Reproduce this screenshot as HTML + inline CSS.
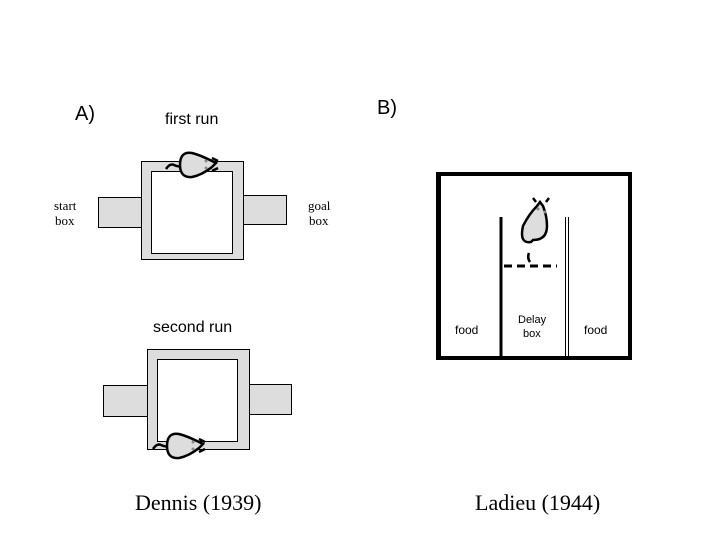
<!DOCTYPE html>
<html><head><style>body{margin:0;background:#fff}svg{display:block}</style></head><body>
<svg width="720" height="540" xmlns="http://www.w3.org/2000/svg" font-family="Liberation Sans, sans-serif">
<rect width="720" height="540" fill="#fff"/>
<text x="75" y="120" font-size="20">A)</text>
<text x="165" y="124" font-size="16">first run</text>
<text x="377" y="114" font-size="20">B)</text>
<!-- top maze -->
<rect x="98.5" y="197.5" width="43" height="30" fill="#ddd" stroke="#000"/>
<rect x="242.5" y="195.5" width="44" height="29" fill="#ddd" stroke="#000"/>
<rect x="141.5" y="161.5" width="102" height="98" fill="#ddd" stroke="#000"/>
<rect x="151.5" y="171.5" width="81" height="82" fill="#fff" stroke="#000"/>
<text x="54" y="210" font-size="13" font-family="Liberation Serif, serif">start</text>
<text x="55" y="225" font-size="13" font-family="Liberation Serif, serif">box</text>
<text x="308" y="210" font-size="13" font-family="Liberation Serif, serif">goal</text>
<text x="309" y="225" font-size="13" font-family="Liberation Serif, serif">box</text>
<g transform="translate(0,0)" stroke="#000" stroke-width="2.5" fill="#ddd">
<path d="M166 169 q4-6 8-4 q4 2 6 1 M180 165 q0-14 12-12 q8 2 20 8 l4 2 l-4 4 q-10 8-20 10 q-12 1-12-12z"/>
<circle cx="206" cy="161" r="1.5" fill="#888" stroke="none"/><circle cx="206" cy="168" r="1.5" fill="#888" stroke="none"/>
<path d="M212 158 l6 3 M212 171 l6-3" />
</g>
<text x="153" y="332" font-size="16">second run</text>
<!-- bottom maze -->
<rect x="103.5" y="385.5" width="44" height="31" fill="#ddd" stroke="#000"/>
<rect x="247.5" y="384.5" width="44" height="30" fill="#ddd" stroke="#000"/>
<rect x="147.5" y="349.5" width="102" height="100" fill="#ddd" stroke="#000"/>
<rect x="157.5" y="359.5" width="80" height="82" fill="#fff" stroke="#000"/>
<g stroke="#000" stroke-width="2.5" fill="#ddd">
<path d="M153 449 q4-6 8-4 q4 2 6 1 M167 446 q0-14 12-12 q8 2 20 8 l4 2 l-4 4 q-10 8-20 10 q-12 1-12-12z"/>
<circle cx="193" cy="442" r="1.5" fill="#888" stroke="none"/><circle cx="193" cy="449" r="1.5" fill="#888" stroke="none"/>
<path d="M199 439 l6 3 M199 452 l6-3"/>
</g>
<text x="135" y="510" font-size="22" font-family="Liberation Serif, serif">Dennis (1939)</text>
<!-- B -->
<rect x="438" y="174" width="192" height="184" fill="#fff" stroke="#000" stroke-width="4"/>
<line x1="440.5" y1="176" x2="440.5" y2="356" stroke="#000" stroke-width="1"/>
<line x1="501" y1="234" x2="501" y2="360" stroke="#000" stroke-width="3"/>
<line x1="501" y1="217" x2="501" y2="234" stroke="#000" stroke-width="3"/>
<line x1="565.5" y1="217" x2="565.5" y2="358" stroke="#000" stroke-width="1"/>
<line x1="568.5" y1="217" x2="568.5" y2="358" stroke="#000" stroke-width="1"/>
<line x1="504" y1="266" x2="557" y2="266" stroke="#000" stroke-width="3" stroke-dasharray="8,5"/>
<g stroke="#000" stroke-width="2.5" fill="#ddd">
<path d="M529 253 q-2 5 1 9 M531 242 q-12 2-8-16 q6-12 14-20 l3-4 l3 4 q4 10 4 20 q0 14-14 14 z"/>
<path d="M536 202 l-3-4 M546 202 l3-4"/>
<circle cx="538" cy="209" r="1.5" fill="#888" stroke="none"/><circle cx="545" cy="212" r="1.5" fill="#888" stroke="none"/>
</g>
<text x="455" y="334" font-size="12">food</text>
<text x="518" y="323" font-size="11">Delay</text>
<text x="523" y="337" font-size="11">box</text>
<text x="584" y="334" font-size="12">food</text>
<text x="475" y="510" font-size="22" font-family="Liberation Serif, serif">Ladieu (1944)</text>
</svg>
</body></html>
